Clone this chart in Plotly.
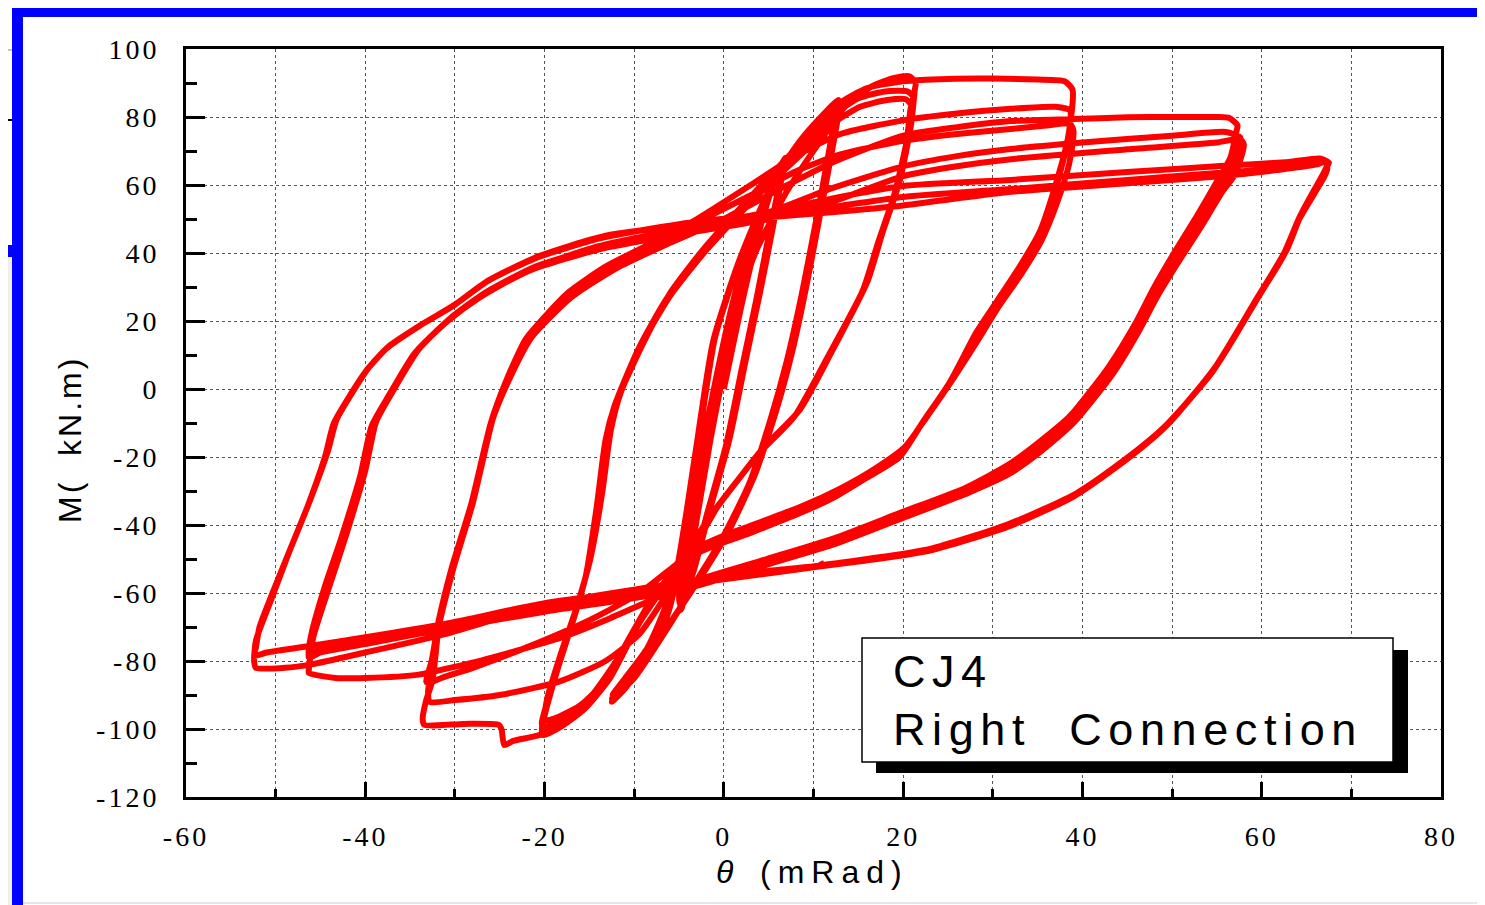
import plotly.graph_objects as go

# ---------------- axis ticks ----------------
x_ticks = [-60, -40, -20, 0, 20, 40, 60, 80]
x_labels = ["-60", "-40", "-20", "0", "20", "40", "60", "80"]
y_ticks = [-120, -100, -80, -60, -40, -20, 0, 20, 40, 60, 80, 100]
y_labels = ["-120", "-100", "-80", "-60", "-40", "-20", "0", "20", "40", "60", "80", "100"]

# ---------------- hysteresis data (theta mRad, moment kN.m) ----------------
# +-6 cycles
theta_a1 = [0, 2, 3.8, 5.5, 6.8, 6.5, 5.5, 4, 2.4, 0.6, -1.5, -3.2, -4.3, -4.8]
moment_a1 = [0, 25, 45, 60, 68, 63, 48, 28, 8, -15, -35, -52, -61, -65]
theta_a2 = [-4.7, -4.2, -3, -1.5, 0, 1.8, 3.5, 5.2, 6.6, 6.3, 5.2, 3.8, 2.2, 0.4, -1.7, -3.4, -4.4, -4.9]
moment_a2 = [-62, -55, -38, -15, 5, 25, 43, 58, 66, 61, 46, 27, 7, -16, -36, -53, -60, -64]
theta_a3 = [-4.8, -4.3, -3.1, -1.6, -0.1, 1.7, 3.4, 5, 6.4, 6.1, 5, 3.6, 2, 0.2, -1.9, -3.6, -4.6, -5]
moment_a3 = [-61, -53, -36, -14, 6, 26, 44, 58, 64, 59, 45, 26, 6, -17, -37, -54, -60, -63]
# +-13 cycles
theta_b1 = [-4.9, -4.2, -3.2, -1.5, 0.5, 2.5, 5.5, 8.5, 11, 12.8, 12.9, 12.2, 11, 9.3, 7.7, 6, 3.5, 0.5, -2.5, -5.5, -8.5, -11, -12.5]
moment_b1 = [-57, -45, -28, -5, 20, 40, 61, 73, 80.5, 85, 83, 72, 55, 31.5, 11.8, -5, -25, -42, -55, -67, -79, -88, -92]
theta_b2 = [-12.3, -10, -7.5, -6, -5, -4, -2.8, -1, 1.8, 5, 8.3, 11, 12.6, 12.6, 11.9, 10.7, 9, 7.4, 5.6, 3.2, 0.2, -2.8, -5.8, -8.8, -11.2, -12.5]
moment_b2 = [-91, -85, -75, -64, -52, -36, -15, 15, 38, 58, 71, 79, 83, 81, 70, 53, 30, 10, -7, -26, -43, -56, -68, -80, -88, -91]
theta_b3 = [-12.2, -10, -7.6, -6.1, -5.1, -4.1, -2.9, -1.2, 1.6, 4.8, 8, 10.8, 12.3, 12.3, 11.6, 10.4, 8.7, 7, 5.2, 2.8, -0.2, -3.2, -6.2, -9.2, -11.4, -12.4]
moment_b3 = [-90, -84, -74, -63, -51, -35, -14, 14, 37, 57, 70, 78, 81, 79, 68, 51, 28, 8, -9, -28, -44, -57, -70, -82, -88.5, -90]
# +-20 cycles
theta_c1 = [-11, -8.5, -6.5, -5, -3.5, -1.5, 1, 3.5, 7, 10.5, 13.5, 16.5, 19, 20.7, 21.4, 21.3, 20.9, 19.6, 17.7, 16, 12.2, 8.5, 4.5, 1.5, -0.8, -3, -4.6, -7.5, -10.1, -12.7, -15.5, -18, -20.2]
moment_c1 = [-85, -76, -64, -50, -30, -5, 20, 40, 58, 72, 83, 89, 91.5, 92, 90, 88, 78, 61, 46, 31.5, 11.8, -6, -17, -27, -35, -45, -50, -60, -72, -85, -94, -99, -101.8]
theta_c2 = [-20.3, -19.8, -18.5, -16.8, -15.4, -14.2, -13.2, -12.2, -9.5, -6.4, -2.7, 2.9, 8.5, 12.2, 15, 18, 20.5, 21.1, 21, 20.6, 19.3, 17.4, 15.7, 11.9, 8.2, 4.2, 1.2, -1.1, -4.9, -7.8, -10.4, -13, -15.8, -18.3, -20.2]
moment_c2 = [-100, -94, -82, -68, -55, -35, -15, -5, 12, 26.5, 39, 56, 70.6, 80.5, 85.5, 87.5, 87.5, 86, 84, 75, 59, 44, 30, 10.5, -7, -18, -28, -36, -51, -61, -73, -86, -94, -98, -99.5]
theta_c3 = [-20.3, -19.7, -18.3, -16.6, -15.1, -13.9, -12.9, -11.9, -9.2, -6.1, -2.4, 3.2, 8.8, 12.4, 15.2, 18.2, 20.3, 20.9, 20.8, 20.4, 19.1, 17.2, 15.5, 11.6, 7.9, 3.9, 0.9, -1.4, -5.2, -8.1, -10.7, -13.3, -16, -18.5, -20]
moment_c3 = [-98, -92, -80, -66, -52, -33, -13, -3, 13, 27, 39.5, 55.5, 69.5, 78.5, 83, 85, 85.2, 83.5, 82, 73, 58, 43, 29, 9.5, -8, -19, -29, -37, -52, -62, -74, -86, -93, -96.5, -97.5]
# +38 / -33 cycles
theta_d1 = [-19.7, -18.2, -16.4, -14.9, -13.6, -12.6, -11.5, -8.8, -5.8, -2, 3.5, 8.5, 12.9, 16, 20, 25, 30, 35, 38, 38.9, 38.4, 37, 35.2, 33, 30.5, 28.2, 25.2, 22.2, 19.6, 16, 12.2, 8.5, 2.9, -2.7, -6, -9, -12, -15, -18, -20.6, -23.5, -24.5, -24.8, -25.1, -29, -33.4]
moment_d1 = [-91, -78, -64, -50, -31, -12, -1, 14.5, 29, 42, 58, 72, 84, 88.5, 90.5, 91.2, 91.3, 91, 90.5, 88, 74, 60, 46, 36, 26, 16.8, 2, -9.7, -20, -26, -32, -36.5, -42.4, -48, -56, -67, -80, -91, -98.5, -101.8, -103.5, -104.7, -100, -98.8, -98.5, -98.8]
theta_d2 = [-33.6, -33.2, -32.5, -31.8, -30.2, -28, -25.8, -24.3, -22.1, -19.9, -17.3, -13.2, -8, -3, 3, 8, 13, 20, 26, 32, 37, 38.6, 38.7, 38.3, 36.9, 35.1, 32.9, 30.4, 28.3, 25.5, 22.5, 20, 16.5, 12.5, 8.5, 3, -2.5, -5.5, -9.4, -15, -22, -28, -31.5, -33]
moment_d2 = [-97, -91.5, -85.6, -70, -53, -33.5, -9, 2, 14.7, 21.5, 28.5, 36, 43, 50, 60, 68.5, 75, 79, 81, 82.4, 83, 82, 80, 72, 58, 45, 35, 25.5, 16, 3, -8.5, -18, -24.5, -30.5, -35.5, -41, -46, -52, -60, -68, -76, -82, -85, -86.5]
theta_d3 = [-33.2, -32.6, -31.8, -30.4, -28.2, -26, -24.5, -22.3, -20, -17.5, -13.4, -8, -3, 3, 8, 13, 20, 26, 32, 36, 38.6, 39, 38.9, 38.5, 37.2, 35.4, 33.1, 30.6, 28.5, 25.7, 22.7, 20.2, 16.8, 12.8, 8.7, 3.2, -2.3, -5.5, -9.4, -13.2, -18.3, -25, -30, -32.8]
moment_d3 = [-86, -80, -68, -53, -34, -10, 1, 13.5, 20.5, 27.5, 35, 42, 49, 57, 64, 69, 73, 75, 76.5, 77.5, 78, 76, 72, 66, 55, 43.5, 33.5, 24, 15, 3.5, -8, -17, -23.5, -29.5, -34.5, -40, -46, -57, -72, -80, -86, -90, -91.5, -92]
# +57 / -46 cycles
theta_e1 = [-33, -32.4, -31.6, -30.2, -28, -25.8, -24, -21.5, -17, -12, -6, 0, 6, 12, 20, 26, 32, 39, 45, 50, 55, 56.4, 57.3, 57.2, 56.5, 55, 52.8, 50, 47.9, 46, 43, 38.6, 35, 31.9, 27, 19.6, 12.2, 4.8, -2.7, -8, -13.2, -18, -22.9, -27, -30.2, -34, -40, -43.3, -46.3]
moment_e1 = [-89, -80, -67, -52, -33, -9, 2.5, 15, 27, 35.5, 43, 50, 58.5, 66.5, 74.5, 77, 78.8, 79.4, 79.9, 80, 80, 79.7, 77.5, 76, 68, 61, 51, 39, 29.4, 19.7, 6.8, -8, -16, -22, -29, -36.5, -44, -50, -56, -62, -68, -73, -76.8, -79.8, -81.8, -84, -85, -85, -83.5]
theta_e2 = [-46.3, -45.8, -44, -42.2, -40, -38.8, -37, -34, -30.2, -26.5, -21, -13.5, -5, 5, 12, 20, 26, 32, 40, 50, 56, 57.6, 57.5, 56.5, 55.2, 53, 50.2, 48, 46.1, 43.1, 38.7, 35, 31.5, 27, 19.6, 12.2, 4.8, -2.7, -10, -20, -31, -40, -45, -46.3]
moment_e2 = [-82.6, -73, -58, -43.5, -24, -9.7, -1, 11.8, 21.5, 28.5, 36, 42, 46.5, 52, 59, 65.5, 68.5, 70.6, 72.5, 74.5, 75.6, 74, 72, 64, 59, 49, 37.5, 28, 18.5, 5.5, -9, -17.5, -24, -29.5, -37, -44.5, -50.5, -56.5, -60.5, -64.5, -69.5, -74, -76.5, -78]
theta_e3 = [-46, -44.5, -42.7, -40.5, -39.2, -37.4, -34.4, -30.6, -27, -21.5, -14, -5, 5, 12, 20, 26, 32, 45, 55, 57.6, 58, 57.9, 57, 55.6, 53.3, 50.5, 48.3, 46.4, 43.4, 39, 35.3, 31.8, 27.3, 19.9, 12.5, 5, -2.5, -10, -20, -31, -40, -45, -46.3]
moment_e3 = [-72, -58, -44, -25, -10.5, -2, 10.8, 20.5, 27.5, 35, 41, 45.5, 50, 55, 62.6, 65.5, 67.6, 70.5, 72.5, 73.5, 72, 70, 63, 58, 48, 36.5, 27, 17.5, 4.5, -10, -18.5, -25, -30.5, -38, -45.5, -51.5, -57.5, -61.5, -65.5, -70.5, -75, -77.5, -79]
# +67 / -52 cycles
theta_f1 = [-46, -44.6, -42.8, -40.6, -39.3, -37.5, -34.5, -30.8, -27.2, -21.7, -14, -5, 5, 12, 20, 32, 45, 55, 63, 66.5, 67.5, 67.3, 66.8, 64.5, 62.8, 59.5, 55, 49.8, 45.6, 39.4, 32, 23.3, 16, 10.7, 5, 0, -5, -10, -20, -31, -40, -46, -49, -52.2]
moment_f1 = [-73, -59, -45, -26, -11, -2.5, 10.5, 20, 27, 35, 42, 47, 52, 56, 59.7, 61.5, 63.8, 65.5, 66.8, 67.8, 66.5, 65.6, 63, 52, 41, 26.5, 7, -9.5, -19, -30.6, -39.5, -47, -50, -52, -53.5, -55.5, -57, -59, -63.5, -72, -77.5, -81, -82, -82]
theta_f2 = [-52.4, -52.2, -50.5, -48.5, -46.5, -44.5, -43.5, -41.5, -40, -37.7, -34, -30.2, -26.5, -21, -13.5, -5, 5, 12, 20, 32, 45, 55, 62, 66, 67.2, 67.3, 67, 64.3, 62.5, 59.2, 54.7, 49.5, 45.3, 39.1, 31.7, 23, 15.7, 10.4, 0, -10, -20, -31, -40, -46, -51, -52.4]
moment_f2 = [-80, -74, -62, -48, -35, -20, -10, -1, 5, 11.8, 18.5, 24.4, 31.5, 38.5, 44.5, 48.5, 51.5, 53.5, 56.5, 58.8, 61.5, 63.5, 65, 66.5, 67, 65, 63.5, 51, 40, 25.5, 6, -10.5, -20, -31.5, -40.5, -47.5, -50.5, -52.3, -56, -59.5, -63, -69, -73, -75.5, -77.5, -78.5]
theta_f3 = [-52.2, -51.8, -50.2, -48.2, -46.2, -44.2, -43.2, -41.2, -39.7, -37.4, -33.7, -29.9, -26.2, -20.7, -13.3, -5, 5, 12, 20, 32, 45, 55, 62, 66, 67.2, 67.3, 67, 64.2, 62.4, 59, 54.5, 49.2, 45, 38.8, 31.5, 23, 16, 11.2, 10.7, 11.2]
moment_f3 = [-76, -70, -59, -46, -33, -18.5, -9, 0, 6, 12.5, 19, 25, 32, 39, 45, 48, 50.5, 52, 54, 58, 60.5, 62.5, 64.5, 66, 66.8, 64.5, 62.5, 50, 39, 24.5, 5, -11, -20.5, -31.5, -40, -47, -50, -51.7, -51.8, -51.2]

cycles = [
    (theta_a1, moment_a1), (theta_a2, moment_a2), (theta_a3, moment_a3),
    (theta_b1, moment_b1), (theta_b2, moment_b2), (theta_b3, moment_b3),
    (theta_c1, moment_c1), (theta_c2, moment_c2), (theta_c3, moment_c3),
    (theta_d1, moment_d1), (theta_d2, moment_d2), (theta_d3, moment_d3),
    (theta_e1, moment_e1), (theta_e2, moment_e2), (theta_e3, moment_e3),
    (theta_f1, moment_f1), (theta_f2, moment_f2), (theta_f3, moment_f3),
]
theta_all, moment_all = [], []
for tx, my in cycles:
    theta_all += tx
    moment_all += my

# ---------------- figure geometry ----------------
OFF = 8                      # default page margin of the html body
W, H = 1485 - OFF, 905 - OFF
L, R, T, B = 186, 1441, 49, 797   # plot area in window pixels


def px(xp):
    return (xp - L) / (R - L)


def py(yp):
    return (B - yp) / (B - T)


fig = go.Figure()
fig.add_trace(go.Scatter(
    x=theta_all, y=moment_all, mode="lines",
    line=dict(color="#ff0000", width=6, shape="spline", smoothing=0.6),
    hoverinfo="skip", showlegend=False,
))

shapes = []


def rect(x0, y0, x1, y1, fill, lc=None, lw=0, layer="above"):
    shapes.append(dict(type="rect", xref="paper", yref="paper",
                       x0=px(x0), x1=px(x1), y0=py(y1), y1=py(y0),
                       fillcolor=fill, line=dict(color=lc or fill, width=lw), layer=layer))


def seg(x0, y0, x1, y1, color, width):
    shapes.append(dict(type="line", xref="paper", yref="paper",
                       x0=px(x0), x1=px(x1), y0=py(y0), y1=py(y1),
                       line=dict(color=color, width=width), layer="above"))


BLUE = "#0000ff"
# slide frame decorations
rect(0, 257, 12, 905, "#eeeeee")
rect(12, 6, 1485, 17, BLUE)
rect(12, 6, 23, 905, BLUE)
rect(1477, 17, 1483, 905, BLUE)
rect(72, 0, 82, 6, BLUE)
rect(0, 245, 12, 257, BLUE)
seg(33, 0, 33, 6, "black", 1.5)
seg(72, 0, 72, 6, "black", 1.5)
seg(0, 120, 12, 120, "black", 2)
seg(0, 50, 12, 50, "#888888", 1)
seg(82, 2, 1485, 2, "#dddddd", 2)
seg(23, 903, 1477, 903, "#e4e4f8", 2)
# label box with shadow
rect(876, 650, 1408, 773, "black")
rect(862, 638, 1393, 762, "white", "black", 1.5)

annotations = [
    dict(text='<span style="letter-spacing:6.5px">CJ4</span>', x=px(891), y=py(671),
         xref="paper", yref="paper", xanchor="left", yanchor="middle", showarrow=False,
         font=dict(family="Liberation Sans", size=45, color="black")),
    dict(text='<span style="letter-spacing:6.6px">Right  Connection</span>', x=px(891), y=py(729),
         xref="paper", yref="paper", xanchor="left", yanchor="middle", showarrow=False,
         font=dict(family="Liberation Sans", size=45, color="black")),
    dict(text='<i>θ</i>\u00a0\u00a0\u00a0<span style="letter-spacing:7px">(mRad)</span>', x=px(714), y=py(872),
         xref="paper", yref="paper", xanchor="left", yanchor="middle", showarrow=False,
         font=dict(family="Liberation Sans", size=32, color="black")),
    dict(text='<span style="letter-spacing:3px">M(\u00a0\u00a0kN.m)</span>', x=px(70), y=py(440),
         xref="paper", yref="paper", xanchor="center", yanchor="middle", showarrow=False,
         textangle=-90, font=dict(family="Liberation Sans", size=32, color="black")),
]

sp = '<span style="letter-spacing:3px">{}</span>'
grid_common = dict(gridcolor="#555555", griddash="dot", gridwidth=1)

fig.update_layout(
    width=W, height=H, autosize=False,
    margin=dict(l=L - OFF, r=W - (R - OFF), t=T - OFF, b=H - (B - OFF), pad=0),
    paper_bgcolor="white", plot_bgcolor="white",
    shapes=shapes, annotations=annotations,
    xaxis=dict(
        range=[-60, 80], tickmode="array", tickvals=x_ticks,
        ticktext=[sp.format(t) for t in x_labels],
        ticks="inside", ticklen=15, tickwidth=3, tickcolor="black",
        showline=True, linecolor="black", linewidth=3, mirror=True,
        showgrid=True, zeroline=False, ticklabelstandoff=12,
        tickfont=dict(family="Liberation Serif", size=28, color="black"),
        minor=dict(tickmode="linear", tick0=-60, dtick=10, ticks="inside", ticklen=8,
                   tickwidth=3, tickcolor="black", showgrid=True, **grid_common),
        **grid_common,
    ),
    yaxis=dict(
        range=[-120, 100], tickmode="array", tickvals=y_ticks,
        ticktext=[sp.format(t) for t in y_labels],
        ticks="inside", ticklen=19, tickwidth=3, tickcolor="black",
        showline=True, linecolor="black", linewidth=3, mirror=True,
        showgrid=True, zeroline=False, ticklabelstandoff=18,
        tickfont=dict(family="Liberation Serif", size=28, color="black"),
        minor=dict(tickmode="linear", tick0=-120, dtick=10, ticks="inside", ticklen=11,
                   tickwidth=3, tickcolor="black", showgrid=False),
        **grid_common,
    ),
)

fig.write_html("out.html")
